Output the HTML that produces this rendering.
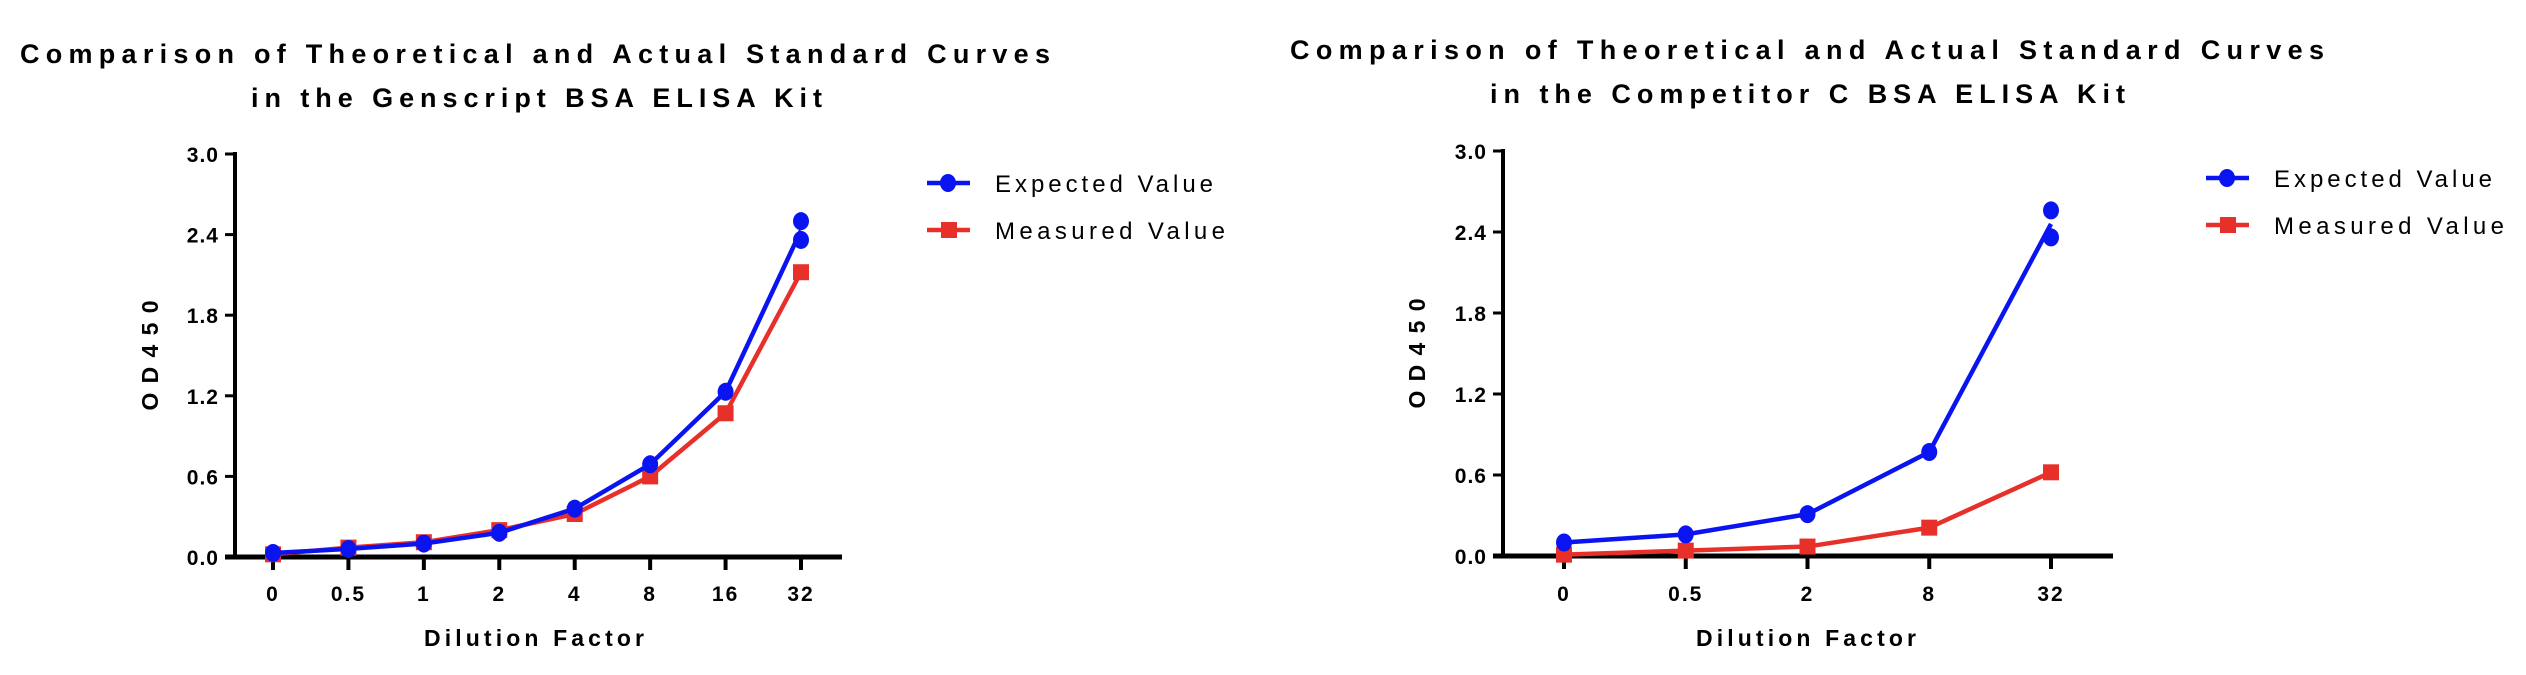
<!DOCTYPE html>
<html><head><meta charset="utf-8"><style>
html,body{margin:0;padding:0;background:#fff;}
svg{display:block;font-family:"Liberation Sans",Arial,sans-serif;}
</style></head><body>
<svg id="root" width="2526" height="675" viewBox="0 0 2526 675" xmlns="http://www.w3.org/2000/svg">
<g id="left"></g>
<g id="right"></g>
</svg>
<script>
// Left chart data
const leftCategories = ["0","0.5","1","2","4","8","16","32"];
const leftExpected = [0.03,0.06,0.10,0.18,0.36,0.69,1.23,2.36];
const leftExpectedExtra = [null,null,null,null,null,null,null,2.50];
const leftMeasured = [0.02,0.07,0.11,0.20,0.32,0.60,1.07,2.12];
// Right chart data
const rightCategories = ["0","0.5","2","8","32"];
const rightExpected = [0.10,0.16,0.31,0.77,2.36];
const rightExpectedExtra = [null,null,null,null,2.56];
const rightMeasured = [0.01,0.04,0.07,0.21,0.62];
const yTicks = ["0.0","0.6","1.2","1.8","2.4","3.0"];

const NS="http://www.w3.org/2000/svg";
function mk(parent,tag,attrs){const e=document.createElementNS(NS,tag);for(const k in attrs)e.setAttribute(k,attrs[k]);parent.appendChild(e);return e;}

function draw(g,cfg){
  const yScale=v=>cfg.y0+(cfg.y3-cfg.y0)*(v/3.0);
  const xScale=i=>cfg.xFirst+(cfg.xLast-cfg.xFirst)*i/(cfg.cats.length-1);
  // title
  cfg.title.forEach((t,i)=>{
    const e=mk(g,"text",{x:cfg.titleX[i],y:cfg.titleY[i],"font-size":"27","font-weight":"bold",textLength:cfg.titleW[i],lengthAdjust:"spacing"});
    e.textContent=t;
    
    
  });
  // axes
  const ya=mk(g,"line",{x1:cfg.ax,y1:yScale(3)-2,x2:cfg.ax,y2:yScale(0)+2,stroke:"#000","stroke-width":"4"});
  
  
  const xa=mk(g,"line",{x1:cfg.ax-10,y1:yScale(0),x2:cfg.axEnd,y2:yScale(0),stroke:"#000","stroke-width":"5"});
  
  
  yTicks.forEach(t=>{
    const v=parseFloat(t),y=yScale(v);
    const tk=mk(g,"line",{x1:cfg.ax-10,y1:y,x2:cfg.ax,y2:y,stroke:"#000","stroke-width":"3"});
    
    
    const lb=mk(g,"text",{x:cfg.ax-16,y:y+8,"font-size":"21","font-weight":"bold","text-anchor":"end","letter-spacing":"1"});
    lb.textContent=t;
    
    
  });
  cfg.cats.forEach((c,i)=>{
    const x=xScale(i);
    const tk=mk(g,"line",{x1:x,y1:yScale(0),x2:x,y2:yScale(0)+13,stroke:"#000","stroke-width":"4"});
    
    
    const lb=mk(g,"text",{x:x,y:601,"font-size":"21","font-weight":"bold","text-anchor":"middle","letter-spacing":"2"});
    lb.textContent=c;
    
    
  });
  const xt=mk(g,"text",{x:cfg.xTitleX-110,y:646,"font-size":"23","font-weight":"bold",textLength:"220",lengthAdjust:"spacing"});
  xt.textContent="Dilution Factor";
  
  
  const yt=mk(g,"text",{x:0,y:0,"font-size":"23","font-weight":"bold",textLength:"110",lengthAdjust:"spacing",transform:`translate(${cfg.yTitleX+8},${(yScale(0)+yScale(3))/2+55}) rotate(-90)`});
  yt.textContent="OD450";
  
  
  // series
  function lineVal(i,main,extra){return extra[i]!=null?(main[i]+extra[i])/2:main[i];}
  const series=[
    {main:cfg.meas,extra:cfg.meas.map(()=>null),color:"#e8302a",sq:true,name:"measured"},
    {main:cfg.exp,extra:cfg.expX,color:"#0a14f0",sq:false,name:"expected"}
  ];
  series.forEach(s=>{
    const pts=s.main.map((v,i)=>xScale(i)+","+yScale(lineVal(i,s.main,s.extra))).join(" ");
    const pl=mk(g,"polyline",{points:pts,fill:"none",stroke:s.color,"stroke-width":"4.5","stroke-linejoin":"round"});
    
    
    const vals=[];
    s.main.forEach((v,i)=>{vals.push([i,v]);if(s.extra[i]!=null)vals.push([i,s.extra[i]]);});
    vals.forEach(([i,v])=>{
      let m;
      if(s.sq){m=mk(g,"rect",{x:xScale(i)-8,y:yScale(v)-8,width:16,height:16,fill:s.color});}
      else{m=mk(g,"ellipse",{cx:xScale(i),cy:yScale(v),rx:8,ry:9,fill:s.color});}
      
      
    });
  });
  // legend
  [["Expected Value","#0a14f0",false,cfg.legY[0]],["Measured Value","#e8302a",true,cfg.legY[1]]].forEach(([t,col,sq,y])=>{
    const lg=mk(g,"g",{});
    
    
    mk(lg,"line",{x1:cfg.legX,y1:y,x2:cfg.legX+43,y2:y,stroke:col,"stroke-width":"4.5"});
    if(sq)mk(lg,"rect",{x:cfg.legX+14,y:y-8,width:16,height:16,fill:col});
    else mk(lg,"ellipse",{cx:cfg.legX+21,cy:y,rx:8,ry:9,fill:col});
    const tx=mk(lg,"text",{x:cfg.legX+68,y:y+9,"font-size":"24",textLength:t.startsWith("E")?"218":"230",lengthAdjust:"spacing"});
    tx.textContent=t;
  });
}

draw(document.getElementById("left"),{
  cats:leftCategories,exp:leftExpected,expX:leftExpectedExtra,meas:leftMeasured,
  y0:557,y3:154,ax:235,axEnd:842,xFirst:273,xLast:801,
  title:["Comparison of Theoretical and Actual Standard Curves","in the Genscript BSA ELISA Kit"],
  titleX:[20,251],titleY:[63,107],titleW:[1030,571],
  xTitleX:534,yTitleX:150,legX:927,legY:[183,230]
});
draw(document.getElementById("right"),{
  cats:rightCategories,exp:rightExpected,expX:rightExpectedExtra,meas:rightMeasured,
  y0:556,y3:151,ax:1503,axEnd:2113,xFirst:1564,xLast:2051,
  title:["Comparison of Theoretical and Actual Standard Curves","in the Competitor C BSA ELISA Kit"],
  titleX:[1290,1490],titleY:[59,103],titleW:[1034,635],
  xTitleX:1806,yTitleX:1417,legX:2206,legY:[178,225]
});
</script>
</body></html>
